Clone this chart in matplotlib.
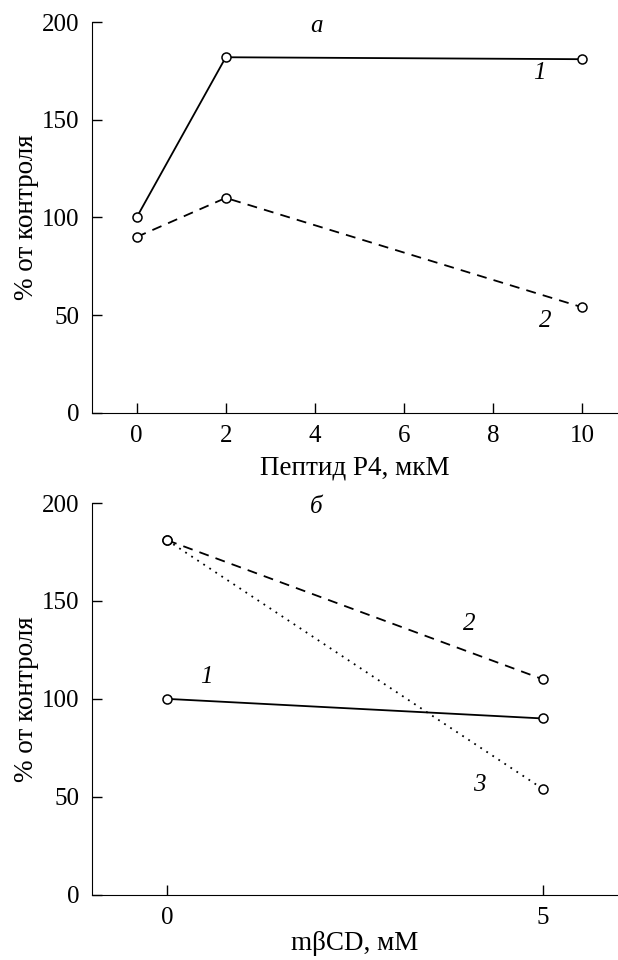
import matplotlib
matplotlib.use("Agg")
from matplotlib import pyplot as plt

plt.rcParams["font.family"] = ["Liberation Serif", "DejaVu Serif"]

# panel a: peptide P4
peptide_x = [0, 2, 10]
peptide_s1 = [100, 182, 181]
peptide_s2 = [90, 110, 54]

# panel b: mbetaCD
mbcd_x = [0, 5]
mbcd_s1 = [100, 90]
mbcd_s2 = [181, 110]
mbcd_s3 = [181, 54]

TICK_FS = 18
LABEL_FS = 19.5


def style_axes(ax):
    ax.spines["top"].set_visible(False)
    ax.spines["right"].set_visible(False)
    ax.tick_params(direction="in", length=7, width=1, labelsize=TICK_FS, pad=9)
    ax.set_ylim(0, 200)
    ax.set_yticks([0, 50, 100, 150, 200])
    ax.set_ylabel("% от контроля", fontsize=LABEL_FS, labelpad=2)


fig = plt.figure(figsize=(6.18, 9.6), dpi=100)

mk = dict(marker="o", markersize=6.5, markerfacecolor="white", markeredgecolor="black",
          markeredgewidth=1.1, color="black", linewidth=1.3)
dashed = (0, (5.5, 4))
dotted = (0, (1, 3))

ax1 = fig.add_axes([0.149, 0.570, 0.851, 0.407])
ax1.plot(peptide_x, peptide_s1, linestyle="-", **mk)
ax1.plot(peptide_x, peptide_s2, linestyle=dashed, **mk)
ax1.set_xlim(-1, 10.8)
ax1.set_xticks([0, 2, 4, 6, 8, 10])
style_axes(ax1)
ax1.set_xlabel("Пептид P4, мкМ", fontsize=LABEL_FS, labelpad=6)
ax1.text(4.03, 198, "а", style="italic", fontsize=TICK_FS, ha="center", va="center")
ax1.text(9.04, 174, "1", style="italic", fontsize=TICK_FS, ha="center", va="center")
ax1.text(9.17, 47, "2", style="italic", fontsize=TICK_FS, ha="center", va="center")

ax2 = fig.add_axes([0.149, 0.068, 0.851, 0.408])
ax2.plot(mbcd_x, mbcd_s1, linestyle="-", **mk)
ax2.plot(mbcd_x, mbcd_s2, linestyle=dashed, **mk)
ax2.plot(mbcd_x, mbcd_s3, linestyle=dotted, **mk)
ax2.set_xlim(-1, 6)
ax2.set_xticks([0, 5])
style_axes(ax2)
ax2.set_xlabel("mβCD, мМ", fontsize=19.5, labelpad=1)
ax2.text(1.98, 198, "б", style="italic", fontsize=TICK_FS, ha="center", va="center")
ax2.text(4.02, 138, "2", style="italic", fontsize=TICK_FS, ha="center", va="center")
ax2.text(0.52, 111, "1", style="italic", fontsize=TICK_FS, ha="center", va="center")
ax2.text(4.15, 56, "3", style="italic", fontsize=TICK_FS, ha="center", va="center")

fig.savefig("out.png", dpi=100)
